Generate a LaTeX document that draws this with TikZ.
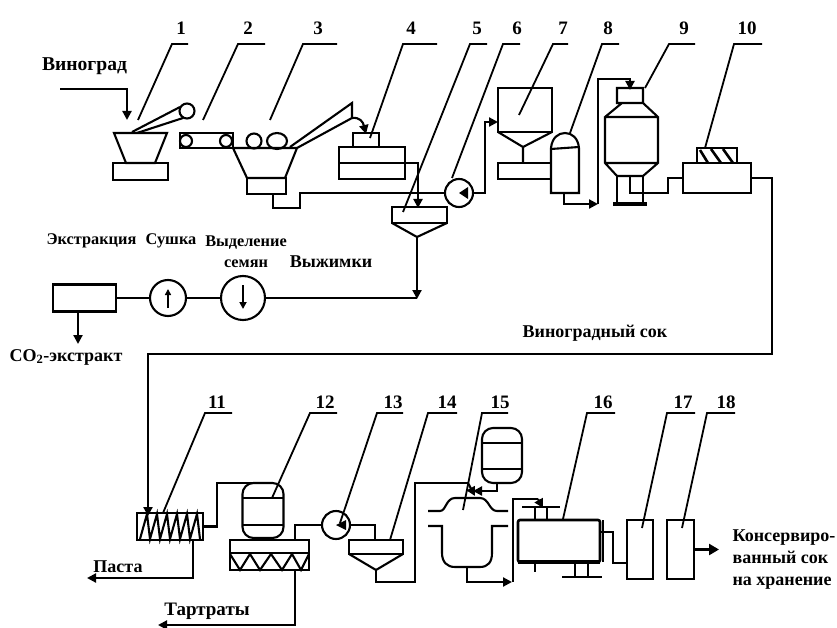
\documentclass[tikz,border=0pt]{standalone}
\usepackage{fontspec}
\setmainfont{Liberation Serif}
\usetikzlibrary{positioning,arrows.meta,calc,shapes.geometric}

\begin{document}
\begin{tikzpicture}[x=1pt,y=-1pt,
    unit/.style={draw,rectangle,line width=2.1pt,inner sep=0pt,outer sep=0pt},
    disc/.style={draw,circle,line width=2.1pt,inner sep=0pt,outer sep=0pt},
    pipe/.style={line width=2.1pt},
    flow/.style={line width=2.1pt,-{Triangle[length=9pt,width=9pt]}},
    lead/.style={line width=1.8pt},
    num/.style={font=\bfseries\fontsize{19}{20}\selectfont,inner sep=0pt},
    txt/.style={font=\bfseries\fontsize{18}{22}\selectfont,inner sep=0pt,align=left},
    txtsmall/.style={font=\bfseries\fontsize{16.3}{21}\selectfont,inner sep=0pt,align=center}]
    \useasboundingbox (0,0) rectangle (837,628);
    % units of the upper line
    \node[unit,minimum width=55pt,minimum height=17pt] (base1) at (140.5,171.5) {};
    \node[unit,minimum width=53pt,minimum height=15pt] (belt2) at (206.5,140.5) {};
    \node[disc,minimum size=12pt] (roll2a) at (186,141) {};
    \node[disc,minimum size=12pt] (roll2b) at (226,141) {};
    \node[disc,minimum size=15pt] (roll1) at (187,111) {};
    \node[disc,fill=white,minimum size=15pt] (roll3a) at (254,141) {};
    \node[draw,ellipse,fill=white,line width=2.1pt,minimum width=20pt,minimum height=16pt,inner sep=0pt] (roll3b) at (277,141) {};
    \node[unit,minimum width=39pt,minimum height=16pt] (base3) at (266.5,186) {};
    \node[unit,minimum width=26pt,minimum height=14pt] (top4) at (366,140) {};
    \node[unit,minimum width=66pt,minimum height=32pt] (body4) at (372,163) {};
    \node[unit,minimum width=55pt,minimum height=16pt] (sep5) at (419.5,215) {};
    \node[disc,minimum size=28pt] (pump6) at (459,193) {};
    \node[unit,minimum width=54pt,minimum height=44pt] (hop7) at (525,110) {};
    \node[unit,minimum width=53pt,minimum height=16pt] (base7) at (524.5,171) {};
    \node[unit,minimum width=68pt,minimum height=30pt] (box10) at (717,178) {};
    \node[unit,minimum width=40pt,minimum height=15pt] (hatch10) at (717,155.5) {};
    % units of the middle line
    \node[unit,line width=2.6pt,minimum width=63pt,minimum height=27pt] (extr) at (84.5,298) {};
    \node[disc,minimum size=36pt] (dry) at (168,298) {};
    \node[disc,minimum size=44pt] (seed) at (243,298) {};
    % units of the lower line
    \node[unit,line width=2.4pt,minimum width=66pt,minimum height=27pt] (box11) at (170,526.5) {};
    \node[unit,rounded corners=11pt,minimum width=41pt,minimum height=55pt] (ves12) at (263,510.5) {};
    \node[unit,minimum width=79pt,minimum height=30pt] (box12) at (269.5,555) {};
    \node[disc,minimum size=28pt] (pump13) at (336,525) {};
    \node[unit,minimum width=54pt,minimum height=14pt] (sep14) at (376,547) {};
    \node[unit,rounded corners=11pt,minimum width=40pt,minimum height=55pt] (tank15) at (502,455.5) {};
    \node[unit,rounded corners=2pt,line width=2.6pt,minimum width=82pt,minimum height=42pt] (box16) at (559,541) {};
    \node[unit,minimum width=26pt,minimum height=59pt] (box17) at (640,549.5) {};
    \node[unit,minimum width=27pt,minimum height=59pt] (box18) at (680.5,549.5) {};
    % shapes drawn round them
    \draw[pipe] (114,133)--(167,133)--(155,163)--(126,163)--cycle;
    \draw[pipe] (132,132)--(180,107) (137,133)--(183,118);
    \draw[pipe] (233,148)--(297,148)--(285,178)--(247,178)--cycle;
    \draw[pipe] (290,147)--(352,103)--(352,118)--(297,148);
    \draw[pipe] (392,223)--(417,237)--(447,223);
    \draw[pipe] (498,132)--(523,147)--(552,132) (523,147)--(523,163);
    \draw[pipe] (551,193)--(551,148) .. controls (552,138) and (558,133) .. (565,133) .. controls (572,133) and (578,138) .. (579,148)--(579,193)--cycle (551,149)--(579,147);
    \draw[pipe] (622,103)--(617,103)--(617,88)--(643,88)--(643,103)--cycle (622,103)--(605,117)--(605,163)--(617,176)--(643,176)--(658,163)--(658,117)--(643,103) (605,117)--(658,117) (605,163)--(658,163);
    \draw[pipe] (617,176)--(617,203) (643,176)--(643,203);
    \draw[line width=3.4pt] (613,204)--(647,204);
    \draw[line width=2.6pt] (700,150)--(708,163) (711,149)--(721,163) (723,149)--(733,163);
    \draw[pipe] (140,539)--(147,514)--(150,539)--(157,514)--(160,539)--(167,514)--(170,539)--(177,514)--(180,539)--(187,514)--(190,539)--(197,514)--(200,539);
    \draw[pipe] (243,498)--(283,498) (243,525)--(283,525);
    \draw[pipe] (230,553)--(309,553);
    \draw[pipe] (230,554)--(240,570)--(250,554)--(260,570)--(271,554)--(282,570)--(292,554)--(301,570)--(309,554);
    \draw[pipe] (349,554)--(376,570)--(403,554);
    \draw[pipe] (482,443)--(522,443) (482,469)--(522,469);
    \draw[pipe] (428,511)--(440,511) .. controls (446,511) and (446,498) .. (455,498)--(480,498) .. controls (489,498) and (489,511) .. (497,511)--(508,511);
    \draw[pipe] (428,526)--(442,526)--(442,553) .. controls (442,562) and (447,567) .. (455,567)--(480,567) .. controls (488,567) and (492,562) .. (492,553)--(492,526)--(508,526);
    \draw[pipe] (522,507)--(560,507) (535,507)--(535,520) (547,507)--(547,520) (535,562)--(535,572);
    \draw[line width=4.5pt] (box16.south west)--(box16.south east);
    \draw[pipe] (603,520)--(603,562);
    \draw[pipe] (575,562)--(575,577) (588,562)--(588,577) (562,577)--(602,577);
    % flows
    \coordinate (grape) at (60,89);
    \coordinate (in7) at (498,122);
    \draw[flow] (grape)--(127,89)--(127,120);
    \draw[flow] (352,118) .. controls (360,117) and (363,122) .. (366,134);
    \draw[pipe] (body4.west)--(body4.east)--(418,163)--(418,200);
    \draw[flow] (418,193)--(418,208);
    \draw[pipe] (273,194)--(273,208)--(300,208)--(300,193)--(pump6.west);
    \fill (459,193)--(468,187)--(468,199)--cycle;
    \draw[flow] (pump6.east)--(485,193)--(485,122)--(in7);
    \draw[flow] (564,193)--(564,204)--(598,204);
    \draw[flow] (598,204)--(598,79)--(630,79)--(630,90);
    \draw[pipe] (630,176)--(630,193)--(668,193)--(668,178)--(box10.west);
    \draw[flow] (box10.east)--(772,178)--(772,354)--(148,354)--(148,516);
    \draw[flow] (417,237)--(417,299);
    \draw[pipe] (417,298)--(seed.east);
    \draw[pipe] (seed.west)--(dry.east);
    \draw[pipe] (dry.west)--(extr.east);
    \draw[-{Triangle[length=6pt,width=6pt]},line width=2.1pt] (168,308)--(168,289);
    \draw[-{Triangle[length=7pt,width=7pt]},line width=2.1pt] (243,285)--(243,309);
    \draw[flow] (78,311)--(78,344);
    \draw[pipe] (box11.east)--(217,526.5)--(217,483)--(263,483);
    \draw[flow] (193,540)--(193,578)--(87,578);
    \draw[flow] (295,570)--(295,625)--(158,625);
    \draw[pipe] (295,540)--(295,525)--(pump13.west);
    \fill (336,525)--(346,520)--(346,530)--cycle;
    \draw[pipe] (pump13.east)--(375,525)--(375,540);
    \draw[pipe] (376,570)--(376,582)--(415,582)--(415,483)--(468,483);
    \draw[flow] (468,483)--(475,496);
    \draw[flow] (497,483)--(497,491)--(473,491);
    \draw[flow] (467,567)--(467,582)--(512,582);
    \draw[pipe] (513,582)--(513,499)--(538,499);
    \draw[flow] (538,499)--(543,508);
    \draw[pipe] (600,532)--(613,532)--(613,563)--(627,563);
    \draw[-{Triangle[length=10pt,width=11pt]},line width=3.2pt] (box18.east)--(719,549.5);
    % texts
    \node[txt,font=\bfseries\fontsize{19.6}{22}\selectfont] (tgrape) at (84.5,66) {Виноград};
    \node[txtsmall] (textr) at (91.5,241) {Экстракция};
    \node[txtsmall] (tdry) at (171,241) {Сушка};
    \node[txtsmall] (tseed) at (246,251.5) {Выделение\\семян};
    \node[txt] (tcake) at (331,262) {Выжимки};
    \node[txt] (tco) at (66,357) {CO\textsubscript{2}-экстракт};
    \node[txt] (tjuice) at (595,333) {Виноградный сок};
    \node[txt] (tpaste) at (118,567) {Паста};
    \node[txt,font=\bfseries\fontsize{19}{22}\selectfont] (ttart) at (207,611) {Тартраты};
    \node[txt] (tstore) at (784,560) {Консервиро-\\ванный сок\\на хранение};
    % numbers with their leaders
    \node[num] (n1) at (181,28) {1}; \coordinate (s1) at (172,44); \coordinate (e1) at (188,44); \coordinate (t1) at (138,120);
    \node[num] (n2) at (248,28) {2}; \coordinate (s2) at (238,44); \coordinate (e2) at (265,44); \coordinate (t2) at (203,120);
    \node[num] (n3) at (318,28) {3}; \coordinate (s3) at (303,44); \coordinate (e3) at (337,44); \coordinate (t3) at (270,120);
    \node[num] (n4) at (411,28) {4}; \coordinate (s4) at (403,44); \coordinate (e4) at (437,44); \coordinate (t4) at (370,138);
    \node[num] (n5) at (477,28) {5}; \coordinate (s5) at (470,44); \coordinate (e5) at (487,44); \coordinate (t5) at (403,212);
    \node[num] (n6) at (517,28) {6}; \coordinate (s6) at (503,44); \coordinate (e6) at (520,44); \coordinate (t6) at (452,178);
    \node[num] (n7) at (563,28) {7}; \coordinate (s7) at (553,44); \coordinate (e7) at (568,44); \coordinate (t7) at (519,115);
    \node[num] (n8) at (608,28) {8}; \coordinate (s8) at (602,44); \coordinate (e8) at (619,44); \coordinate (t8) at (570,133);
    \node[num] (n9) at (684,28) {9}; \coordinate (s9) at (669,44); \coordinate (e9) at (695,44); \coordinate (t9) at (645,88);
    \node[num] (n10) at (747,28) {10}; \coordinate (s10) at (734,44); \coordinate (e10) at (762,44); \coordinate (t10) at (705,148);
    \node[num] (n11) at (217,402) {11}; \coordinate (s11) at (205,413); \coordinate (e11) at (232,413); \coordinate (t11) at (163,513);
    \node[num] (n12) at (325,402) {12}; \coordinate (s12) at (310,413); \coordinate (e12) at (337,413); \coordinate (t12) at (272,498);
    \node[num] (n13) at (393,402) {13}; \coordinate (s13) at (377,413); \coordinate (e13) at (403,413); \coordinate (t13) at (340,523);
    \node[num] (n14) at (447,402) {14}; \coordinate (s14) at (428,413); \coordinate (e14) at (457,413); \coordinate (t14) at (390,540);
    \node[num] (n15) at (500,402) {15}; \coordinate (s15) at (482,413); \coordinate (e15) at (508,413); \coordinate (t15) at (463,510);
    \node[num] (n16) at (603,402) {16}; \coordinate (s16) at (587,413); \coordinate (e16) at (615,413); \coordinate (t16) at (563,519);
    \node[num] (n17) at (683,402) {17}; \coordinate (s17) at (667,413); \coordinate (e17) at (695,413); \coordinate (t17) at (642,528);
    \node[num] (n18) at (726,402) {18}; \coordinate (s18) at (707,413); \coordinate (e18) at (735,413); \coordinate (t18) at (682,528);
    \draw[lead] (e1)--(s1)--(t1);
    \draw[lead] (e2)--(s2)--(t2);
    \draw[lead] (e3)--(s3)--(t3);
    \draw[lead] (e4)--(s4)--(t4);
    \draw[lead] (e5)--(s5)--(t5);
    \draw[lead] (e6)--(s6)--(t6);
    \draw[lead] (e7)--(s7)--(t7);
    \draw[lead] (e8)--(s8)--(t8);
    \draw[lead] (e9)--(s9)--(t9);
    \draw[lead] (e10)--(s10)--(t10);
    \draw[lead] (e11)--(s11)--(t11);
    \draw[lead] (e12)--(s12)--(t12);
    \draw[lead] (e13)--(s13)--(t13);
    \draw[lead] (e14)--(s14)--(t14);
    \draw[lead] (e15)--(s15)--(t15);
    \draw[lead] (e16)--(s16)--(t16);
    \draw[lead] (e17)--(s17)--(t17);
    \draw[lead] (e18)--(s18)--(t18);
  \end{tikzpicture}
\end{document}
